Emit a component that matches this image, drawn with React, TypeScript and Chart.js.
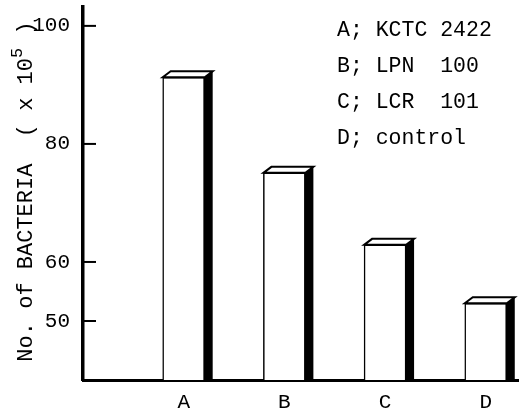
import React, { useEffect, useRef } from "react";
import { Chart, registerables } from "chart.js";

Chart.register(...registerables);

const categories = ["A", "B", "C", "D"];
const xPositions = [1, 2, 3, 4];
const bacteria = [91.3, 75.1, 62.9, 53.0];
const yTickValues = [50, 60, 80, 100];
const legendLines = ["A; KCTC 2422", "B; LPN  100", "C; LCR  101", "D; control"];
const yTitleParts = ["No. of BACTERIA  ( x 10", "5", " )"];

const FONT = "'Liberation Mono', 'DejaVu Sans Mono', monospace";

const bar3dPlugin = {
  id: "bar3d",
  afterDatasetsDraw(chart: any) {
    const ctx = chart.ctx;
    const meta = chart.getDatasetMeta(0);
    const bottom = chart.chartArea.bottom;
    const dx = 8;
    const dy = 6;
    ctx.save();
    meta.data.forEach((el: any) => {
      const { x, y, base, width } = el.getProps(["x", "y", "base", "width"], true);
      const b = Math.min(base, bottom);
      const left = x - width / 2;
      const right = x + width / 2;
      ctx.beginPath();
      ctx.moveTo(right - 1, y);
      ctx.lineTo(right + dx, y - dy);
      ctx.lineTo(right + dx, b);
      ctx.lineTo(right - 1, b);
      ctx.closePath();
      ctx.fillStyle = "#000";
      ctx.fill();
      ctx.beginPath();
      ctx.moveTo(left, y);
      ctx.lineTo(left + dx, y - dy);
      ctx.lineTo(right + dx, y - dy);
      ctx.lineTo(right, y);
      ctx.closePath();
      ctx.fillStyle = "#fff";
      ctx.fill();
      ctx.lineWidth = 2;
      ctx.strokeStyle = "#000";
      ctx.lineJoin = "miter";
      ctx.stroke();
    });
    ctx.restore();
  },
};

const extrasPlugin = {
  id: "extras",
  afterDraw(chart: any) {
    const ctx = chart.ctx;
    const yScale = chart.scales.y;
    const area = chart.chartArea;
    const x0 = area.left;
    ctx.save();
    ctx.strokeStyle = "#000";
    ctx.lineWidth = 2;
    yTickValues.forEach((v) => {
      const py = yScale.getPixelForValue(v);
      ctx.beginPath();
      ctx.moveTo(x0, py);
      ctx.lineTo(x0 + 13, py);
      ctx.stroke();
    });
    ctx.fillStyle = "#000";
    ctx.font = `21.5px ${FONT}`;
    ctx.textAlign = "left";
    ctx.textBaseline = "middle";
    legendLines.forEach((t, i) => {
      ctx.fillText(t, 337, 30 + 36 * i);
    });

    // y-axis title with superscript
    const mainFont = `22px ${FONT}`;
    const supFont = `17px ${FONT}`;
    ctx.font = mainFont;
    const w0 = ctx.measureText(yTitleParts[0]).width;
    const w2 = ctx.measureText(yTitleParts[2]).width;
    ctx.font = supFont;
    const w1 = ctx.measureText(yTitleParts[1]).width;
    const total = w0 + w1 + w2;
    const cy = (area.top + area.bottom) / 2 - 2;
    ctx.translate(26, cy);
    ctx.rotate(-Math.PI / 2);
    ctx.textBaseline = "middle";
    ctx.textAlign = "left";
    let pos = -total / 2;
    ctx.font = mainFont;
    ctx.fillText(yTitleParts[0], pos, 0);
    pos += w0;
    ctx.font = supFont;
    ctx.fillText(yTitleParts[1], pos, -9);
    pos += w1;
    ctx.font = mainFont;
    ctx.fillText(yTitleParts[2], pos, 0);
    ctx.restore();
  },
};

export default function App() {
  const ref = useRef<HTMLCanvasElement | null>(null);

  useEffect(() => {
    document.body.style.margin = "0";
    const canvas = ref.current;
    if (!canvas) return;
    const chart = new Chart(canvas, {
      type: "bar",
      data: {
        datasets: [
          {
            data: xPositions.map((x, i) => ({ x, y: bacteria[i] })),
            backgroundColor: "#fff",
            borderColor: "#000",
            borderWidth: { left: 1.5, top: 1.5, right: 1.5, bottom: 0 },
            borderSkipped: false,
            barThickness: 42,
          },
        ],
      },
      options: {
        responsive: false,
        animation: false,
        devicePixelRatio: 1,
        layout: { padding: { top: 7, left: 0, right: 0, bottom: 0 } },
        plugins: { legend: { display: false }, tooltip: { enabled: false } },
        scales: {
          x: {
            type: "linear",
            offset: false,
            min: 0,
            max: 4.33,
            grid: { display: false, drawTicks: false, offset: false },
            border: { display: true, color: "#000", width: 3 },
            afterBuildTicks: (scale: any) => {
              scale.ticks = xPositions.map((v) => ({ value: v }));
            },
            afterFit: (scale: any) => {
              scale.height = 31;
              scale.paddingLeft = 0;
              scale.paddingRight = 0;
            },
            ticks: {
              color: "#000",
              padding: 10,
              font: { family: FONT, size: 21 },
              callback: (_v: any, i: number) => categories[i],
            },
          },
          y: {
            type: "linear",
            min: 40,
            max: 103.2,
            grid: { display: false, drawTicks: false },
            border: { display: true, color: "#000", width: 3.5 },
            afterBuildTicks: (scale: any) => {
              scale.ticks = yTickValues.map((v) => ({ value: v }));
            },
            afterFit: (scale: any) => {
              scale.width = 83;
              scale.paddingTop = 0;
              scale.paddingBottom = 0;
            },
            ticks: {
              color: "#000",
              padding: 13,
              font: { family: FONT, size: 21 },
            },
            title: { display: false },
          },
        },
      },
      plugins: [bar3dPlugin, extrasPlugin],
    } as any);
    return () => chart.destroy();
  }, []);

  return (
    <div style={{ position: "absolute", left: 0, top: 0, width: 519, height: 411, background: "#fff" }}>
      <canvas ref={ref} width={519} height={411} style={{ display: "block", width: 519, height: 411 }} />
    </div>
  );
}
